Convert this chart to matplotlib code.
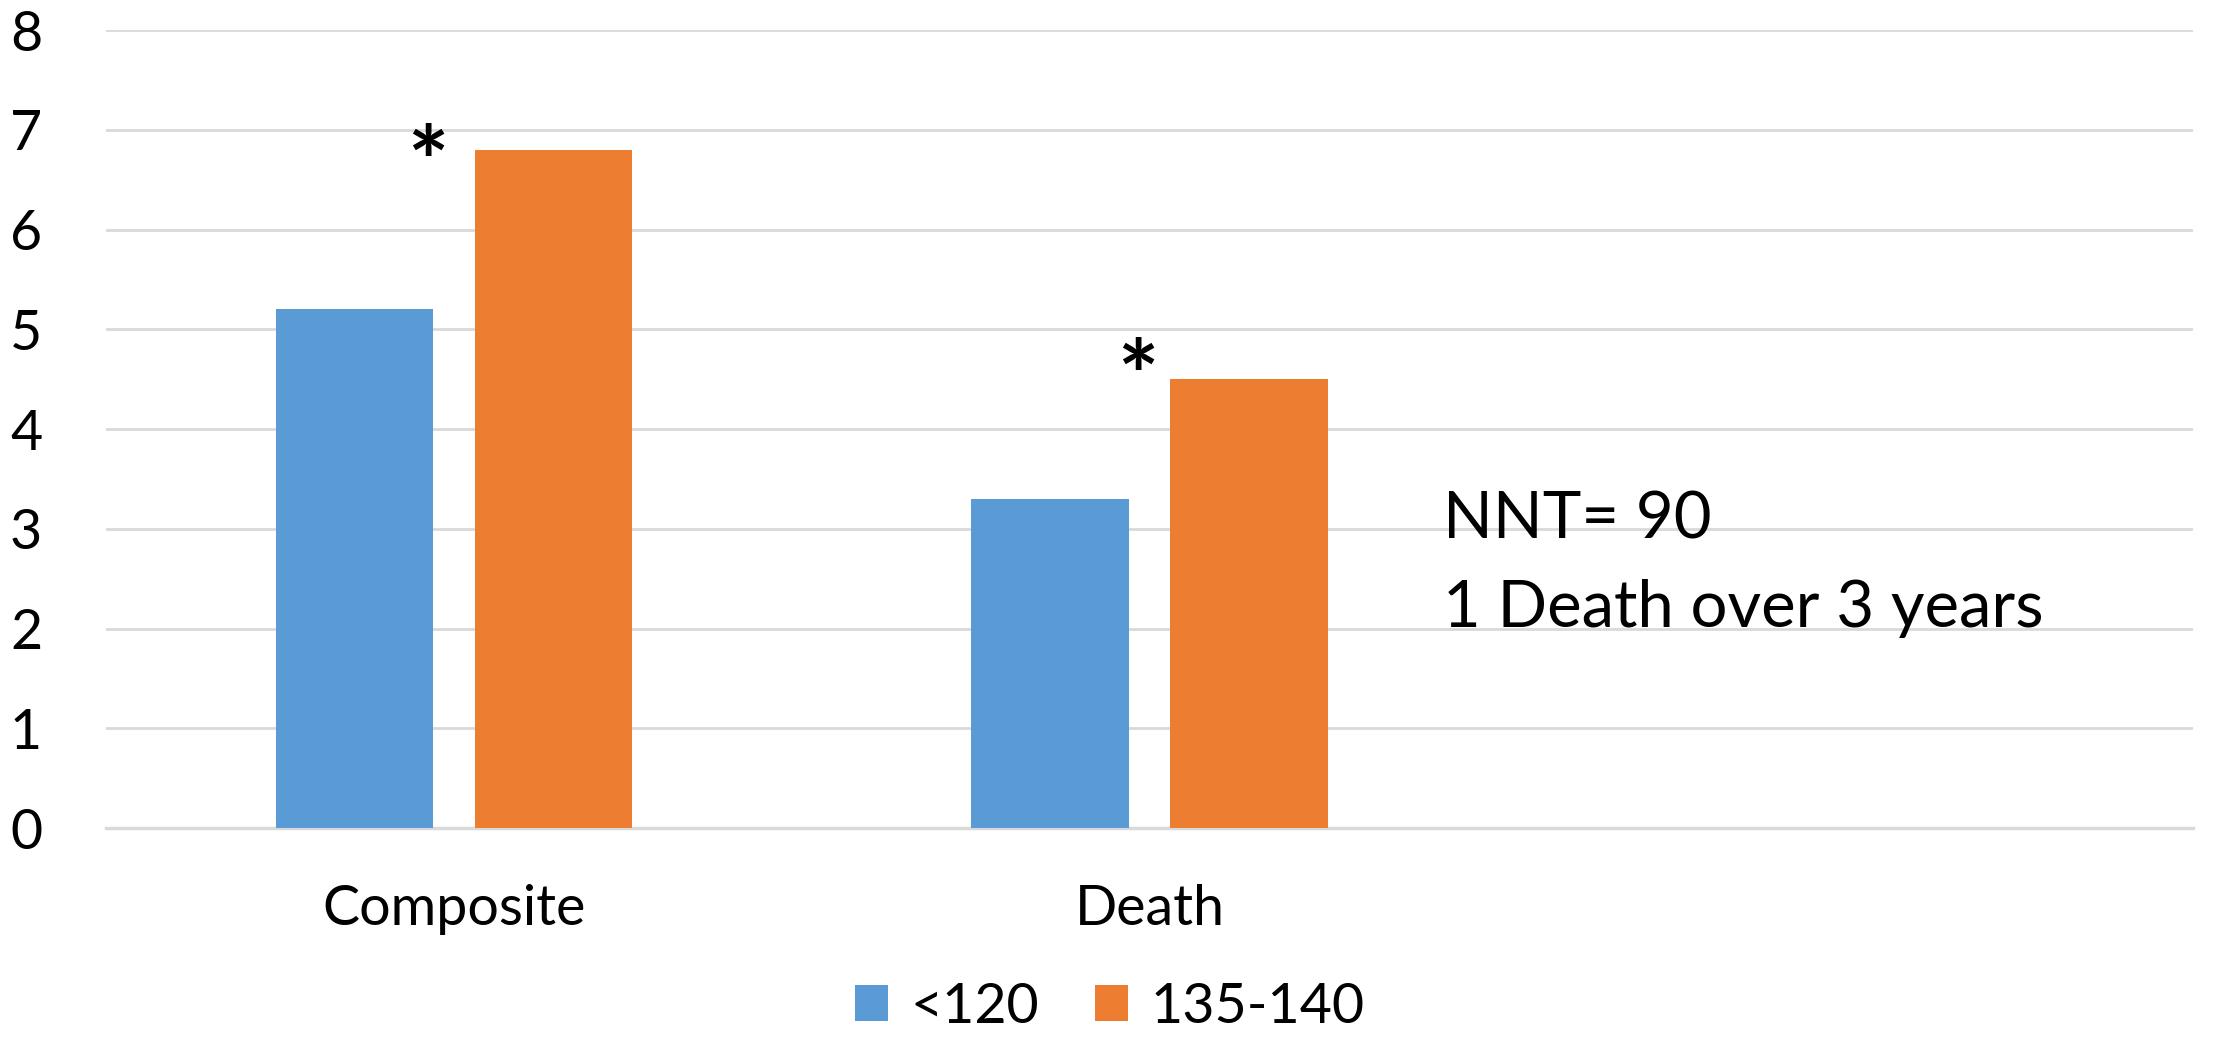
import matplotlib
matplotlib.use("Agg")
import matplotlib.pyplot as plt
import numpy as np

# data
categories = ["Composite", "Death", ""]
series_names = ["<120", "135-140"]
low_bp = [5.2, 3.3, 0]
high_bp = [6.8, 4.5, 0]
colors = ["#5B9BD5", "#ED7D31"]
yticks = [0, 1, 2, 3, 4, 5, 6, 7, 8]

plt.rcParams['font.family'] = ['Lato', 'DejaVu Sans']

fig = plt.figure(figsize=(22.19, 10.39), dpi=100)
ax = fig.add_axes([0.0478, 0.203, 0.9405, 0.768])

x = np.arange(len(categories))
w = 0.226
off = 0.143
ax.bar(x[:2] - off, low_bp[:2], w, color=colors[0], label=series_names[0], zorder=3)
ax.bar(x[:2] + off, high_bp[:2], w, color=colors[1], label=series_names[1], zorder=3)

ax.set_xlim(-0.5, 2.5)
ax.set_ylim(0, 8)
ax.set_yticks(yticks)
ax.set_xticks(x)
ax.set_xticklabels(categories)
ax.tick_params(axis='both', length=0, labelsize=40)
ax.tick_params(axis='y', pad=46)
ax.tick_params(axis='x', pad=40)

ax.grid(axis='y', color='#d9d9d9', linewidth=2, zorder=0)
for s in ['top', 'right', 'left']:
    ax.spines[s].set_visible(False)
ax.spines['bottom'].set_color('#d9d9d9')
ax.spines['bottom'].set_linewidth(2.5)

# significance markers
ax.text(x[0] + off - 0.18, high_bp[0] - 0.19, "*", fontsize=70, ha='center', va='center', fontweight='bold')
ax.text(x[1] + off - 0.16, high_bp[1] - 0.03, "*", fontsize=70, ha='center', va='center', fontweight='bold')

ax.text(1.422, 3.09, "NNT= 90", fontsize=47, ha='left', va='center')
ax.text(1.422, 2.2, "1 Death over 3 years", fontsize=47, ha='left', va='center')

fig.legend(loc='lower center', bbox_to_anchor=(0.5, -0.042), ncol=2, frameon=False,
           fontsize=40, handlelength=0.6, handleheight=0.6, handletextpad=0.4, columnspacing=1.0)

fig.savefig("out.png", dpi=100)
